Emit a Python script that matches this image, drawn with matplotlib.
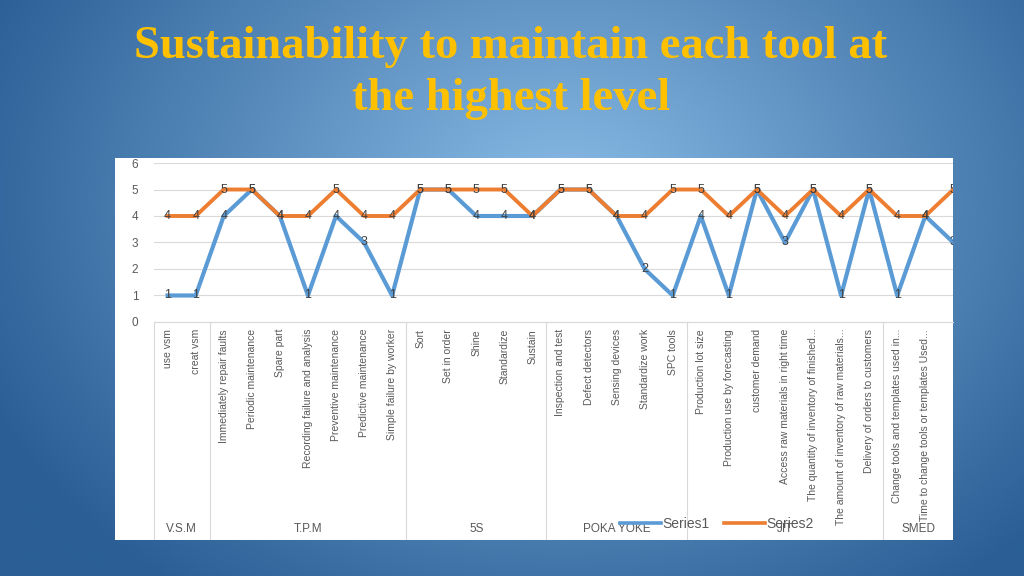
import numpy as np
import matplotlib
matplotlib.use("Agg")
import matplotlib.pyplot as plt
from matplotlib import transforms
from matplotlib.patches import Rectangle
from matplotlib.lines import Line2D

# данные графика
categories = [
    "use vsm", "creat vsm",
    "Immediately repair faults", "Periodic maintenance", "Spare part",
    "Recording failure and analysis", "Preventive maintenance",
    "Predictive maintenance", "Simple failure by worker",
    "Sort", "Set in order", "Shine", "Standardize", "Sustain",
    "Inspection and test", "Defect detectors", "Sensing devices",
    "Standardize work", "SPC tools",
    "Production lot size", "Production use by forecasting", "customer demand",
    "Access raw materials in right time", "The quantity of inventory of finished...",
    "The amount of inventory of raw materials...", "Delivery of orders to customers",
    "Change tools and templates used in...", "Time to change tools or templates Used...",
    "",
]
series1 = [1, 1, 4, 5, 4, 1, 4, 3, 1, 5, 5, 4, 4, 4, 5, 5, 4, 2, 1, 4, 1, 5, 3, 5, 1, 5, 1, 4, 3]
series2 = [4, 4, 5, 5, 4, 4, 5, 4, 4, 5, 5, 5, 5, 4, 5, 5, 4, 4, 5, 5, 4, 5, 4, 5, 4, 5, 4, 4, 5]
groups = ["V.S.M", "T.P.M", "5S", "POKA YOKE", "JIT", "SMED"]
group_sizes = [2, 7, 5, 5, 7, 3]

title = "Sustainability to maintain each tool at\nthe highest level"

BLUE = "#5B9BD5"
ORANGE = "#ED7D31"
GRAY = "#595959"
SANS = ["Liberation Sans", "DejaVu Sans"]

fig = plt.figure(figsize=(10.24, 5.76), dpi=100)

# фон слайда: радиальный градиент + белая панель
bg = fig.add_axes([0, 0, 1, 1], zorder=-1)
bg.set_axis_off()
yy, xx = np.mgrid[0:1:300j, 0:1:520j]
r = np.sqrt(((xx - 0.55) / 0.62) ** 2 + ((yy - 0.35) / 0.85) ** 2)
r = np.clip(r, 0, 1)
light = np.array([0x8A, 0xBC, 0xE6]) / 255
dark = np.array([0x2A, 0x5E, 0x95]) / 255
img = light[None, None, :] * (1 - r[..., None]) + dark[None, None, :] * r[..., None]
bg.imshow(img, extent=[0, 1, 0, 1], aspect="auto", origin="upper")
bg.add_patch(Rectangle((0.112, 0.0625), 0.819, 0.664, facecolor="white",
                       edgecolor="none"))
bg.set_xlim(0, 1)
bg.set_ylim(0, 1)

fig.text(0.499, 0.873, title, ha="center", va="center", color="#FFC000",
         fontsize=33.5, fontweight="bold", family=["Liberation Serif", "DejaVu Serif"],
         linespacing=1.33)

ax = fig.add_axes([0.150, 0.441, 0.781, 0.276])
ax.set_facecolor("white")
x = np.arange(len(categories))
ax.plot(x, series1, color=BLUE, lw=3, label="Series1", zorder=3,
        solid_joinstyle="round")
ax.plot(x, series2, color=ORANGE, lw=2.8, label="Series2", zorder=3,
        solid_joinstyle="round")
for vals in (series1, series2):
    for xi, v in zip(x, vals):
        ax.text(xi, v, str(v), ha="center", va="center", fontsize=9,
                color="#404040", family=SANS, zorder=5, clip_on=True)

ax.set_xlim(-0.5, 27.62)
ax.set_ylim(0, 6)
ax.set_yticks(range(7))
ax.yaxis.grid(True, color="#D9D9D9", lw=0.8)
ax.set_axisbelow(True)
for s in ("top", "right", "left"):
    ax.spines[s].set_visible(False)
ax.spines["bottom"].set_color("#D9D9D9")
ax.tick_params(axis="y", length=0, labelsize=8.5, labelcolor=GRAY, pad=11)
ax.set_xticks(x)
ax.set_xticklabels(categories, rotation=90, va="top", ha="center",
                   fontsize=7.5, color=GRAY, family=SANS)
ax.tick_params(axis="x", length=0, pad=5)
for lab in ax.get_yticklabels():
    lab.set_family(SANS)

# разделители групп и подписи групп
trans = transforms.blended_transform_factory(ax.transData, fig.transFigure)
xmax = ax.get_xlim()[1]
start = -0.5
for name, n in zip(groups, group_sizes):
    ax.plot([start, start], [0.441, 0.065], transform=trans, color="#D9D9D9",
            lw=0.8, clip_on=False)
    end = start + n
    center = (start + min(end, xmax)) / 2
    ax.text(center, 0.081, name, transform=trans, ha="center", va="center",
            fontsize=8.5, color=GRAY, family=SANS)
    start = end

handles = [Line2D([], [], color=BLUE, lw=2.6), Line2D([], [], color=ORANGE, lw=2.6)]
leg = fig.legend(handles, ["Series1", "Series2"], loc="center", ncol=2,
                 bbox_to_anchor=(0.700, 0.090), frameon=False,
                 prop={"family": SANS, "size": 10}, handlelength=2.9,
                 handletextpad=0.1, columnspacing=1.1)
for t in leg.get_texts():
    t.set_color(GRAY)

fig.savefig("out.png", dpi=100)
